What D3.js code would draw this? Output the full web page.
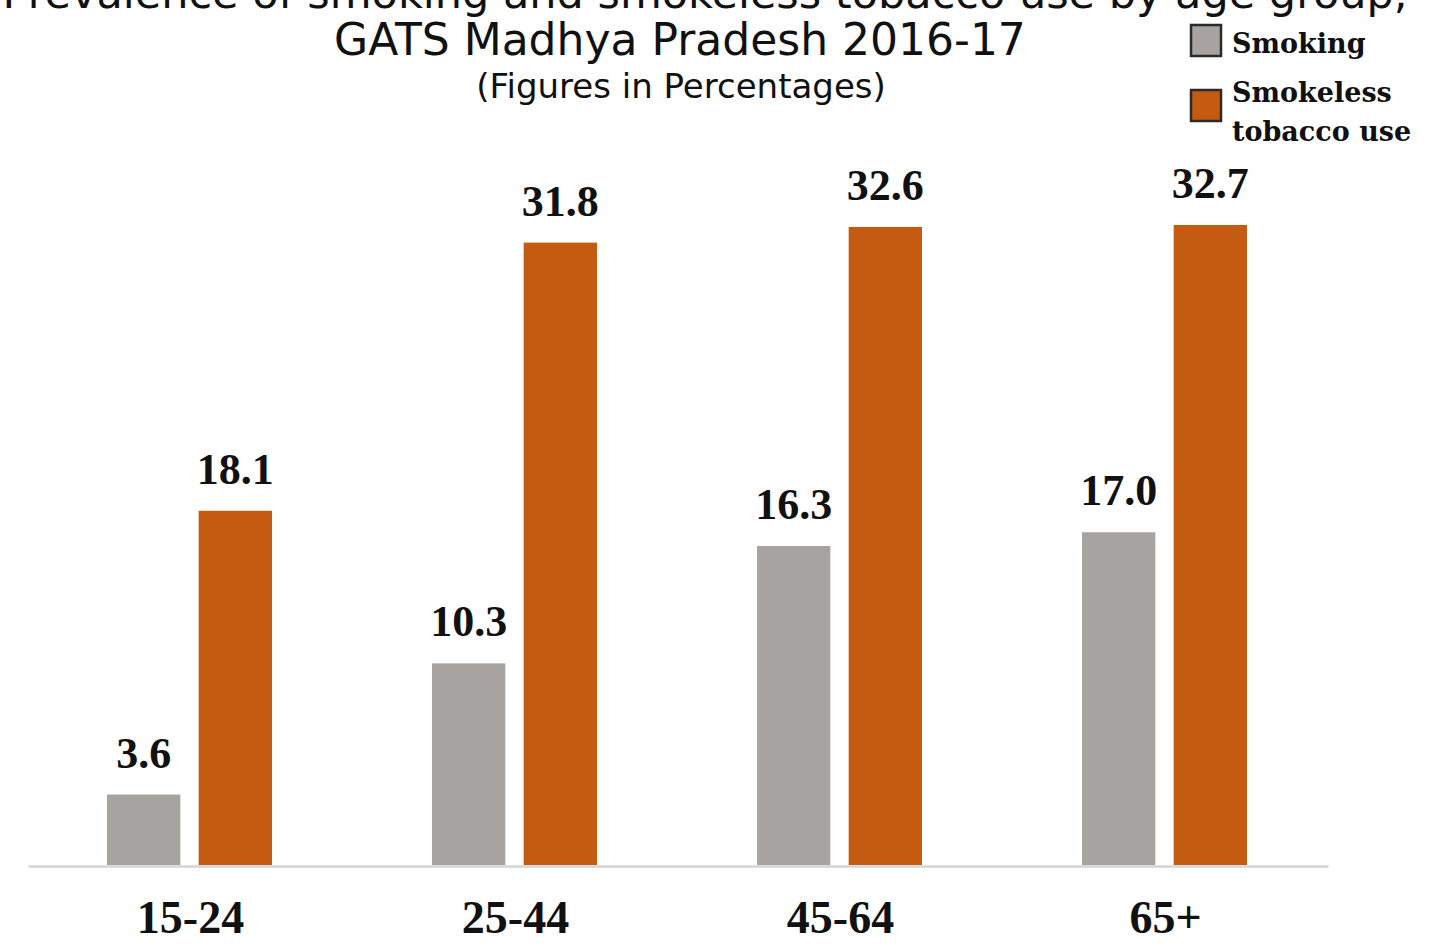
<!DOCTYPE html>
<html>
<head>
<meta charset="utf-8">
<script src="https://cdn.jsdelivr.net/npm/d3@7"></script>
<style>
body { margin: 0; background: #fff; }
svg { display: block; }
</style>
</head>
<body>
<script>
var width = 1437
var height = 947

var groups = ["15-24", "25-44", "45-64", "65+"]
var series = ["Smoking", "Smokeless tobacco use"]
var smoking = [3.6, 10.3, 16.3, 17.0]
var smokeless = [18.1, 31.8, 32.6, 32.7]
var colors = ["#a6a3a1", "#c55a11"]

var values = [smoking, smokeless]
var rows = []
groups.forEach(function(g, i) {
    series.forEach(function(s, j) {
        rows.push({ group: g, series: s, value: values[j][i], color: colors[j] })
    })
})

var svg = d3.select("body").append("svg")
    .attr("width", width)
    .attr("height", height)

var x = d3.scaleBand()
    .domain(groups)
    .range([28, 1328])

var xs = d3.scaleBand()
    .domain(series)
    .range([79, 244])
    .paddingInner(0.2)

var y = d3.scaleLinear()
    .domain([0, 32.7])
    .range([865, 225])

// titles (first line is cut by the top edge, as in the source image)
svg.append("text")
    .attr("x", 705).attr("y", 8)
    .attr("text-anchor", "middle")
    .style("font-family", "DejaVu Sans")
    .style("font-size", "43px")
    .style("fill", "#111")
    .text("Prevalence of smoking and smokeless tobacco use by age group,")

svg.append("text")
    .attr("x", 680).attr("y", 55)
    .attr("text-anchor", "middle")
    .style("font-family", "DejaVu Sans")
    .style("font-size", "44px")
    .style("fill", "#111")
    .text("GATS Madhya Pradesh 2016-17")

svg.append("text")
    .attr("x", 681).attr("y", 98)
    .attr("text-anchor", "middle")
    .style("font-family", "DejaVu Sans")
    .style("font-size", "34px")
    .style("fill", "#111")
    .text("(Figures in Percentages)")

// bars
svg.append("g")
    .selectAll("rect")
    .data(rows)
    .enter().append("rect")
    .attr("x", function(d) { return x(d.group) + xs(d.series) })
    .attr("y", function(d) { return y(d.value) })
    .attr("width", xs.bandwidth())
    .attr("height", function(d) { return y(0) - y(d.value) })
    .style("fill", function(d) { return d.color })

svg.append("g")
    .selectAll("text")
    .data(rows)
    .enter().append("text")
    .attr("x", function(d) { return x(d.group) + xs(d.series) + xs.bandwidth() / 2 })
    .attr("y", function(d) { return y(d.value) - 27 })
    .attr("text-anchor", "middle")
    .style("font-family", "Liberation Serif")
    .style("font-weight", "bold")
    .style("font-size", "44px")
    .style("fill", "#111")
    .text(function(d) { return d.value.toFixed(1) })

// axis
var axis = svg.append("g")
    .attr("transform", "translate(0,866)")
    .call(d3.axisBottom(x).tickSize(0).tickPadding(34))
axis.select(".domain").attr("stroke", "#d4d4d4").attr("stroke-width", 2.5)
axis.selectAll("text")
    .style("font-family", "Liberation Serif")
    .style("font-weight", "bold")
    .style("font-size", "46px")
    .style("fill", "#111")

// legend
var legendRows = [
    { color: colors[0], lines: ["Smoking"], y: 25, ty: [53] },
    { color: colors[1], lines: ["Smokeless", "tobacco use"], y: 90, ty: [102, 141] }
]
var legend = svg.append("g")
legend.selectAll("rect")
    .data(legendRows)
    .enter().append("rect")
    .attr("x", 1191).attr("y", function(d) { return d.y })
    .attr("width", 30).attr("height", 31)
    .style("fill", function(d) { return d.color })
    .style("stroke", "#2b2b2b")
    .style("stroke-width", 2.5)

legendRows.forEach(function(r) {
    r.lines.forEach(function(t, i) {
        legend.append("text")
            .attr("x", 1232).attr("y", r.ty[i])
            .style("font-family", "DejaVu Serif")
            .style("font-weight", "bold")
            .style("font-size", "27px")
            .style("fill", "#111")
            .text(t)
    })
})
</script>
</body>
</html>
